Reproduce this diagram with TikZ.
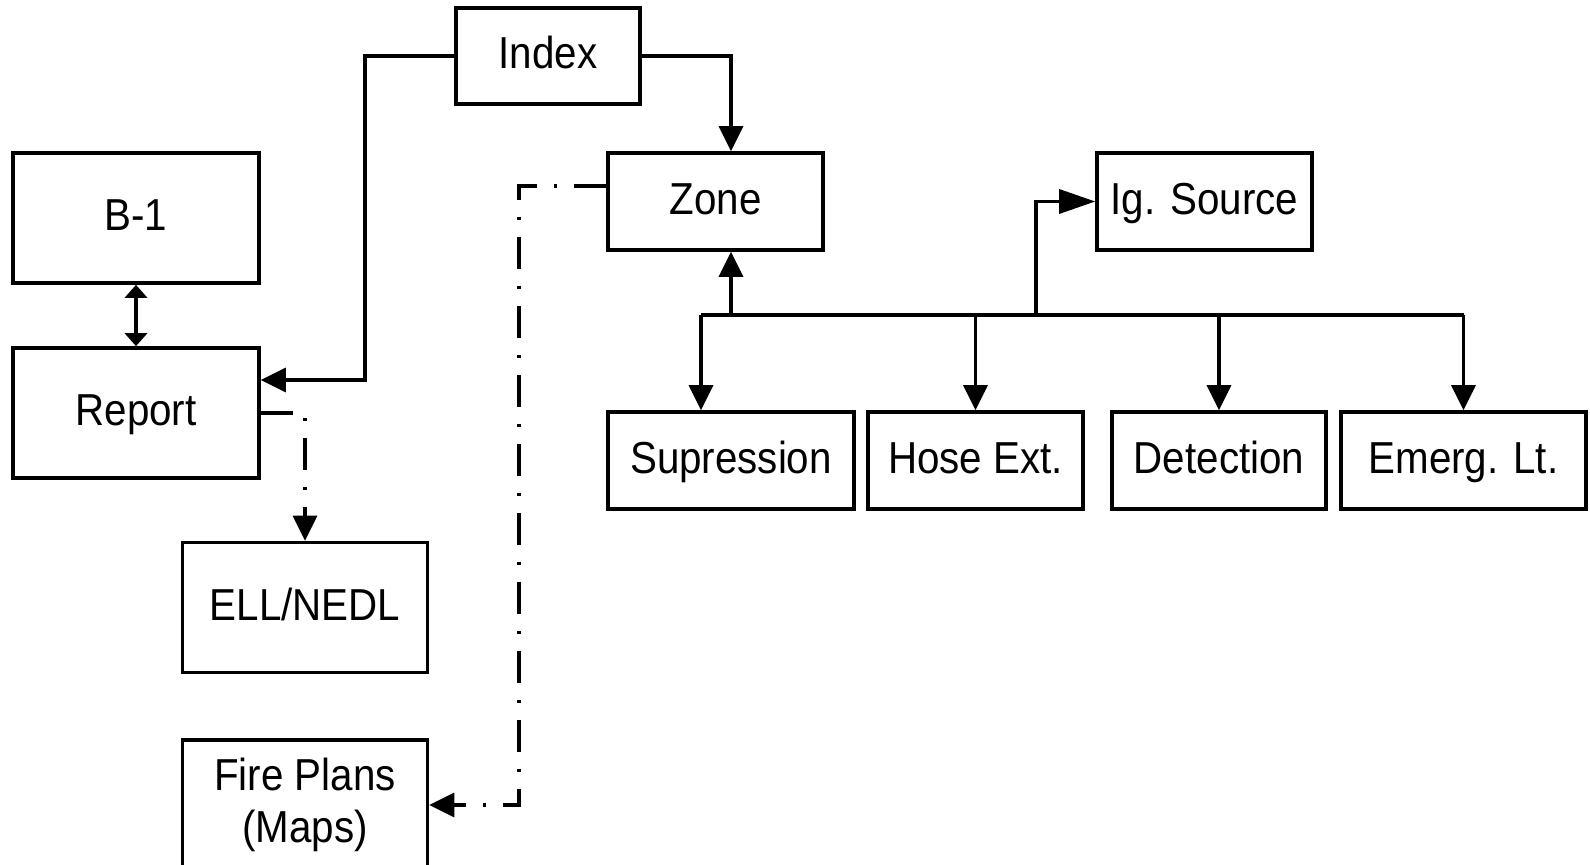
\documentclass[tikz,border=0pt]{standalone}
\usepackage{fontspec}
\setmainfont{Liberation Sans}[FakeStretch=0.9]
\usetikzlibrary{arrows.meta}
\begin{document}
\begin{tikzpicture}[x=0.5pt,y=-0.5pt,
  box/.style={draw, line width=1.8pt, inner sep=0pt, align=center,
    font=\fontsize{22.4}{26}\selectfont},
  onebox/.style={box, text height=17pt, text depth=4pt},
  conn/.style={line width=1.7pt},
  tip/.style={-{Triangle[length=12.5pt,width=12pt]}},
  dd/.style={conn, dash pattern=on 16pt off 8.5pt on 1.5pt off 8.5pt}]
\useasboundingbox (0,0) rectangle (1590,865);
\clip (0,0) rectangle (1590,865);

% boxes
\node[onebox, minimum width=92pt,    minimum height=48pt]   (idx)  at (548,56)       {Index};
\node[onebox, minimum width=123pt,   minimum height=65pt]   (b1)   at (136,218)      {B-1};
\node[onebox, minimum width=123pt,   minimum height=65pt]   (rep)  at (136,413)      {Report};
\node[onebox, minimum width=107.5pt, minimum height=48.5pt] (zone) at (715.5,201.5)  {Zone};
\node[onebox, minimum width=107.5pt, minimum height=48.5pt] (ig)   at (1204.5,201.5) {Ig. Source};
\node[onebox, minimum width=123pt,   minimum height=48.5pt] (sup)  at (731,460.5)    {Supression};
\node[onebox, minimum width=107.5pt, minimum height=48.5pt] (hose) at (975.5,460.5)  {Hose Ext.};
\node[onebox, minimum width=107pt,   minimum height=48.5pt] (det)  at (1219,460.5)   {Detection};
\node[onebox, minimum width=122.5pt, minimum height=48.5pt] (emg)  at (1463.5,460.5) {Emerg. Lt.};
\node[onebox, minimum width=122.5pt, minimum height=65pt]   (ell)  at (305,607.5)    {ELL/NEDL};
\node[box,    minimum width=122.5pt, minimum height=65pt]   (fire) at (305,805)      {Fire Plans\\(Maps)};

% junction points
\coordinate (kr) at (365,380);
\coordinate (jl) at (701,315);
\coordinate (jz) at (731,315);
\coordinate (ji) at (1036,315);
\coordinate (jr) at (1463.5,315);
\coordinate (zd) at (519,186);

% Index links
\draw[conn,tip] (idx.west) -| (kr) -- (kr -| rep.east);
\draw[conn,tip] (idx.east) -| (jz |- zone.north);

% B-1 <-> Report
\draw[conn,{Triangle[length=6.5pt,width=11pt]}-{Triangle[length=6.5pt,width=11pt]}] (b1) -- (rep);

% bus below Zone
\draw[conn] (jl) -- (jr);
\draw[conn,tip] (jz) -- (jz |- zone.south);
\draw[conn,tip] (jl) -- (jl |- sup.north);
\draw[conn,tip] (hose.north |- jl) -- (hose.north);
\draw[conn,tip] (det.north |- jl) -- (det.north);
\draw[conn,tip] (jr) -- (emg.north);
\draw[conn,-{Triangle[length=18pt,width=12pt]}] (ji) |- (ig.west);

% dash-dot references
\draw[dd,tip] (rep.east) -| (ell.north);
\draw[dd,tip] (zone.west |- zd) -- (zd) |- (fire.east);
\end{tikzpicture}
\end{document}
